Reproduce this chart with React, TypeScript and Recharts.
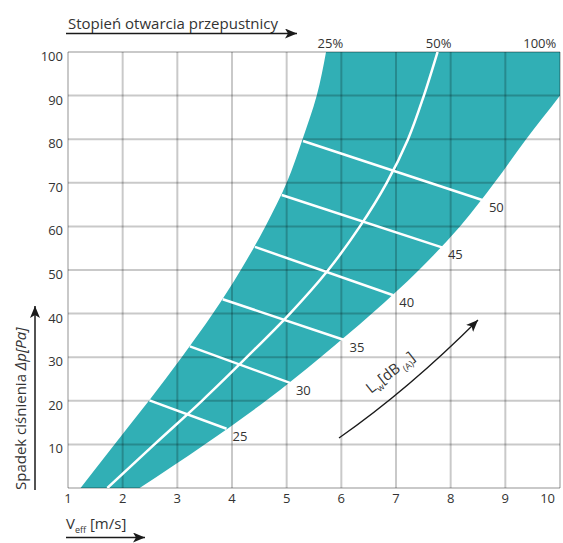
import React from 'react'
import {
  ComposedChart,
  Area,
  Line,
  XAxis,
  YAxis,
  CartesianGrid,
  ReferenceLine,
  ReferenceDot
} from 'recharts'

// pressure drop steps (Pa) and the air speed (m/s) of each opening curve at that step
const pressure = [0, 10, 20, 30, 40, 50, 60, 70, 80, 90, 100]
const open25 = [1.23, 1.85, 2.48, 3.08, 3.65, 4.16, 4.61, 5.0, 5.29, 5.55, 5.72]
const open50 = [1.72, 2.58, 3.45, 4.27, 5.06, 5.76, 6.34, 6.83, 7.22, 7.51, 7.76]
// the 100% curve leaves the plot past 10 m/s near the top; the plot clips it
const open100 = [2.31, 3.5, 4.62, 5.62, 6.56, 7.42, 8.17, 8.8, 9.38, 10, 10.58]

// sound power lines Lw [dB(A)]
const noiseLevels = [25, 30, 35, 40, 45, 50]
const noiseStartV = [2.49, 3.23, 3.83, 4.42, 4.91, 5.3]
const noiseStartP = [20.1, 32.5, 43.3, 55.3, 67.2, 79.6]
const noiseEndV = [3.9, 5.06, 6.04, 6.95, 7.84, 8.59]
const noiseEndP = [13.6, 24.1, 34.0, 44.2, 55.2, 66.0]

// damper opening labels along the top
const openingNames = ['25%', '50%', '100%']
const openingLabelV = [5.8, 7.78, 9.63]

const speedTicks = [1, 2, 3, 4, 5, 6, 7, 8, 9, 10]
const pressureTicks = [0, 10, 20, 30, 40, 50, 60, 70, 80, 90, 100]

const rows = pressure.map((p, i) => ({
  dp: p,
  left: open25[i],
  mid: open50[i],
  right: open100[i]
}))

const FONT = "'Segoe UI', 'Open Sans', sans-serif"
const TEXT = '#333333'
const TEAL = '#31afb5'

function YTick({ x, y, payload }: any) {
  if (payload.value === 0) return <g />
  return (
    <text x={x} y={y + 9} textAnchor="end" fontSize={13} fill={TEXT} fontFamily={FONT}>
      {payload.value}
    </text>
  )
}

function XTick({ x, y, payload }: any) {
  const last = payload.value === speedTicks[speedTicks.length - 1]
  return (
    <text
      x={x}
      y={y}
      dy="0.71em"
      textAnchor={last ? 'end' : 'middle'}
      fontSize={13}
      fill={TEXT}
      fontFamily={FONT}
    >
      {payload.value}
    </text>
  )
}

function Decorations() {
  return (
    <svg
      width={563}
      height={543}
      style={{ position: 'absolute', left: 0, top: 0, pointerEvents: 'none' }}
    >
      <defs>
        <marker
          id="head"
          viewBox="0 0 12 10"
          refX="12"
          refY="5"
          markerWidth="12"
          markerHeight="10"
          markerUnits="userSpaceOnUse"
          orient="auto"
        >
          <path d="M0,0 L12,5 L0,10 L3,5 z" fill="#1a1a1a" />
        </marker>
      </defs>
      <g fontFamily={FONT} fill={TEXT}>
        <text x={68} y={29} fontSize={15}>Stopień otwarcia przepustnicy</text>
        <line x1={66} y1={33.5} x2={297} y2={33.5} stroke="#1a1a1a" strokeWidth={1.5} markerEnd="url(#head)" />

        <text transform="translate(26,490) rotate(-90)" fontSize={15}>
          Spadek ciśnienia <tspan fontStyle="italic">Δp[Pa]</tspan>
        </text>
        <line x1={35} y1={490} x2={35} y2={306} stroke="#1a1a1a" strokeWidth={1.5} markerEnd="url(#head)" />

        <text x={66} y={529} fontSize={15}>
          V<tspan fontSize={9} dy={4}>eff</tspan>
          <tspan dy={-4}> [m/s]</tspan>
        </text>
        <line x1={66} y1={537.5} x2={145} y2={537.5} stroke="#1a1a1a" strokeWidth={1.5} markerEnd="url(#head)" />

        <text transform="translate(371,394) rotate(-38)" fontSize={15}>
          L<tspan fontSize={9} dy={4}>w</tspan>
          <tspan dy={-4}>[dB</tspan>
          <tspan fontSize={9} dy={4}> (A)</tspan>
          <tspan dy={-4}>]</tspan>
        </text>
        <path d="M339,438 Q409,389 478,320" fill="none" stroke="#1a1a1a" strokeWidth={1.3} markerEnd="url(#head)" />
      </g>
    </svg>
  )
}

export default function App() {
  return (
    <div style={{ position: 'absolute', left: 0, top: 0, width: 563, height: 543, background: '#fff' }}>
      <ComposedChart
        width={563}
        height={543}
        data={rows}
        layout="vertical"
        margin={{ top: 52, right: 3, bottom: 35, left: 0 }}
      >
        <XAxis
          type="number"
          domain={[1, 10]}
          ticks={speedTicks}
          allowDataOverflow
          axisLine={false}
          tickLine={false}
          tickSize={0}
          tickMargin={6}
          height={20}
          tick={<XTick />}
        />
        <YAxis
          type="number"
          dataKey="dp"
          domain={[0, 100]}
          ticks={pressureTicks}
          allowDataOverflow
          reversed
          axisLine={false}
          tickLine={false}
          tickSize={0}
          tickMargin={5}
          width={68}
          tick={<YTick />}
        />
        <Area
          dataKey={(d: any) => [d.left, d.right]}
          type="monotone"
          fill={TEAL}
          fillOpacity={1}
          stroke="none"
          isAnimationActive={false}
          activeDot={false}
          dot={false}
        />
        <CartesianGrid stroke="rgba(0,0,0,0.21)" strokeWidth={2} zIndex={150} />
        <Line
          dataKey="mid"
          type="monotone"
          stroke="#ffffff"
          strokeWidth={2.5}
          dot={false}
          activeDot={false}
          isAnimationActive={false}
        />
        {noiseLevels.map((lv, i) => (
          <ReferenceLine
            key={'seg' + lv}
            segment={[
              { x: noiseStartV[i], y: noiseStartP[i] },
              { x: noiseEndV[i], y: noiseEndP[i] }
            ]}
            stroke="#ffffff"
            strokeWidth={2.5}
          />
        ))}
        {noiseLevels.map((lv, i) => (
          <ReferenceDot
            key={'lbl' + lv}
            x={noiseEndV[i]}
            y={noiseEndP[i]}
            shape={(p: any) => (
              <text x={p.cx + 6} y={p.cy + 12} fontSize={13} fill={TEXT} fontFamily={FONT}>
                {lv}
              </text>
            )}
          />
        ))}
        {openingNames.map((name, i) => (
          <ReferenceDot
            key={name}
            x={openingLabelV[i]}
            y={100}
            shape={(p: any) => (
              <text x={p.cx} y={p.cy - 4} textAnchor="middle" fontSize={13} fill={TEXT} fontFamily={FONT}>
                {name}
              </text>
            )}
          />
        ))}
      </ComposedChart>
      <Decorations />
    </div>
  )
}
